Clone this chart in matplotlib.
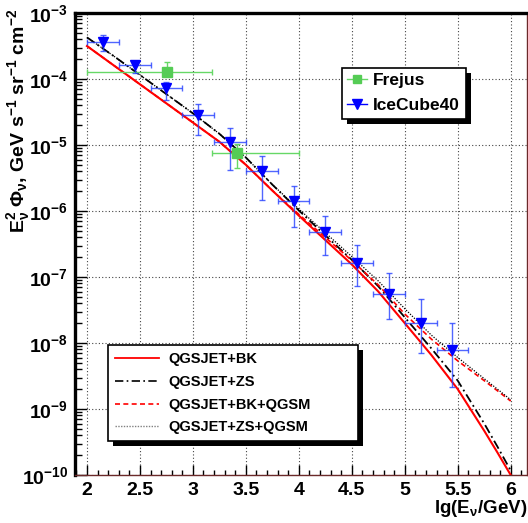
import numpy as np
import matplotlib
matplotlib.use('Agg')
import matplotlib.pyplot as plt
from matplotlib.lines import Line2D
from matplotlib.patches import Rectangle
from matplotlib.transforms import IdentityTransform
from matplotlib.ticker import MultipleLocator, LogLocator, FuncFormatter, NullFormatter

plt.rcParams['font.family'] = ['Liberation Sans', 'DejaVu Sans']
plt.rcParams['font.weight'] = 'bold'
plt.rcParams['axes.labelweight'] = 'bold'
plt.rcParams['mathtext.fontset'] = 'custom'
plt.rcParams['mathtext.rm'] = 'Liberation Sans:bold'
plt.rcParams['mathtext.it'] = 'Liberation Sans:bold'
plt.rcParams['mathtext.bf'] = 'Liberation Sans:bold'

# model curves, lg(E/GeV) vs E^2 Phi
lgE = [2.0, 2.25, 2.5, 2.75, 3.0, 3.25, 3.5, 3.75, 4.0,
       4.25, 4.5, 4.75, 5.0, 5.25, 5.5, 5.75, 5.875, 6.0]
bk = [3.16e-4, 1.62e-4, 8.32e-5, 4.27e-5, 2.19e-5, 1.12e-5, 5.01e-6, 2.04e-6, 8.51e-7,
      3.63e-7, 1.55e-7, 6.03e-8, 2.00e-8, 6.61e-9, 2.00e-9, 4.68e-10, 2.19e-10, 1.0e-10]
zs = [4.27e-4, 2.24e-4, 1.15e-4, 5.89e-5, 3.02e-5, 1.48e-5, 6.46e-6, 2.51e-6, 1.02e-6,
      4.27e-7, 1.82e-7, 7.24e-8, 2.45e-8, 8.32e-9, 2.69e-9, 6.03e-10, 2.69e-10, 1.17e-10]
bk_qgsm = [3.16e-4, 1.62e-4, 8.32e-5, 4.27e-5, 2.19e-5, 1.12e-5, 5.01e-6, 2.04e-6, 8.91e-7,
           3.98e-7, 1.78e-7, 7.59e-8, 2.75e-8, 1.15e-8, 5.37e-9, 2.69e-9, 1.89e-9, 1.32e-9]
zs_qgsm = [4.27e-4, 2.24e-4, 1.15e-4, 5.89e-5, 3.02e-5, 1.48e-5, 6.46e-6, 2.51e-6, 1.07e-6,
           4.68e-7, 2.04e-7, 8.71e-8, 3.31e-8, 1.32e-8, 6.03e-9, 2.88e-9, 2.0e-9, 1.38e-9]

# IceCube40 unfolded points
ic_x = np.array([2.15, 2.45, 2.75, 3.05, 3.35, 3.65, 3.95, 4.25, 4.55, 4.85, 5.15, 5.45])
ic_dx = 0.15
ic_y = np.array([3.67e-4, 1.63e-4, 7.23e-5, 2.85e-5, 1.12e-5, 4.08e-6,
                 1.42e-6, 4.81e-7, 1.63e-7, 5.47e-8, 2.03e-8, 7.94e-9])
ic_hi = np.array([4.68e-4, 1.875e-4, 9.12e-5, 4.18e-5, 1.79e-5, 6.81e-6,
                  2.42e-6, 8.45e-7, 3.05e-7, 1.14e-7, 4.65e-8, 2.02e-8])
ic_lo = np.array([2.63e-4, 1.245e-4, 4.81e-5, 1.42e-5, 4.18e-6, 1.47e-6,
                  5.78e-7, 2.18e-7, 7.41e-8, 2.29e-8, 6.97e-9, 2.18e-9])

# Frejus points
fr_x = np.array([2.76, 3.42])
fr_xlo = np.array([2.0, 3.18])
fr_xhi = np.array([3.18, 4.0])
fr_y = np.array([1.28e-4, 7.48e-6])
fr_hi = np.array([1.79e-4, 1.035e-5])
fr_lo = np.array([1.15e-4, 4.44e-6])

fig = plt.figure(figsize=(5.28, 5.23), dpi=100)
ax = fig.add_axes([75/528, 48/523, 452/528, 462/523])

ax.plot(lgE, bk, color='red', lw=1.5, zorder=3)
ax.plot(lgE, zs, color='black', lw=1.3, ls=(0, (5, 2, 1, 2)), zorder=3)
ax.plot(lgE, bk_qgsm, color='red', lw=1.2, ls=(0, (3, 2)), zorder=3)
ax.plot(lgE, zs_qgsm, color='black', lw=0.9, ls=(0, (1, 1.2)), zorder=3)

ax.errorbar(fr_x, fr_y, xerr=[fr_x - fr_xlo, fr_xhi - fr_x], yerr=[fr_y - fr_lo, fr_hi - fr_y],
            fmt='s', color='#55cc55', ecolor='#66d866', elinewidth=1.0, capsize=2.5,
            capthick=1.0, markersize=6.5, zorder=4)
ax.errorbar(ic_x, ic_y, xerr=ic_dx, yerr=[ic_y - ic_lo, ic_hi - ic_y],
            fmt='v', color='blue', ecolor=(0.15, 0.25, 1.0, 0.8), elinewidth=1.0, capsize=2.5,
            capthick=1.0, markersize=7.5, zorder=4)

ax.set_yscale('log')
ax.set_xlim(1.887, 6.154)
ax.set_ylim(1e-10, 1e-3)

ax.xaxis.set_major_locator(MultipleLocator(0.5))
ax.xaxis.set_minor_locator(MultipleLocator(0.1))
ax.xaxis.set_major_formatter(FuncFormatter(lambda v, p: '%g' % v))
ax.yaxis.set_major_locator(LogLocator(base=10, numticks=20))
ax.yaxis.set_minor_locator(LogLocator(base=10, subs=np.arange(2, 10), numticks=20))
ax.yaxis.set_minor_formatter(NullFormatter())
ax.yaxis.set_major_formatter(FuncFormatter(lambda v, p: r'$10^{%d}$' % round(np.log10(v))))

ax.tick_params(which='both', direction='in', labelsize=14, width=1.0)
ax.tick_params(axis='x', which='major', length=7, pad=5)
ax.tick_params(axis='x', which='minor', length=3.5)
ax.tick_params(axis='y', which='major', length=8.5, pad=5)
ax.tick_params(axis='y', which='minor', length=5)

ax.grid(True, which='major', color='#444444', ls=(0, (1, 2)), lw=0.8)

for s in ['top', 'left']:
    ax.spines[s].set_linewidth(2.4)
    ax.spines[s].set_color('black')
for s in ['right', 'bottom']:
    ax.spines[s].set_linewidth(1.0)
    ax.spines[s].set_color('#6b2a2a')

ax.set_ylabel(r'E$_{\nu}^{2}$ $\Phi_{\nu}$, GeV s$^{-1}$ sr$^{-1}$ cm$^{-2}$',
              fontsize=14, loc='top')
ax.yaxis.set_label_coords(-0.095, 1.01)
ax.set_xlabel(r'lg(E$_{\nu}$/GeV)', fontsize=13.5, loc='right')
ax.xaxis.label.set_verticalalignment('top')
ax.xaxis.set_label_coords(1.0, -0.05)

h1 = [Line2D([], [], color='#66d866', marker='s', markersize=6, markerfacecolor='#55cc55',
             markeredgecolor='#55cc55', lw=1.0),
      Line2D([], [], color='blue', marker='v', markersize=6.5, lw=1.0)]
leg1 = ax.legend(h1, ['Frejus', 'IceCube40'], loc='upper left',
                 bbox_to_anchor=(0.590, 0.765, 0.275, 0.117), mode='expand',
                 borderaxespad=0, fontsize=12.5, fancybox=False, framealpha=1,
                 edgecolor='black', handlelength=1.15, handletextpad=0.35,
                 labelspacing=0.6, borderpad=0.3)
leg1.get_frame().set_linewidth(1.2)
ax.add_artist(leg1)

h2 = [Line2D([], [], color='red', lw=1.3),
      Line2D([], [], color='black', lw=1.2, ls=(0, (5, 2, 1, 2))),
      Line2D([], [], color='red', lw=1.2, ls=(0, (3, 2))),
      Line2D([], [], color='gray', lw=1.0, ls=(0, (1, 1)))]
leg2 = ax.legend(h2, ['QGSJET+BK', 'QGSJET+ZS', 'QGSJET+BK+QGSM', 'QGSJET+ZS+QGSM'],
                 loc='upper left', bbox_to_anchor=(0.0737, 0.069, 0.553, 0.212),
                 mode='expand', borderaxespad=0, fontsize=10.5, fancybox=False,
                 framealpha=1, edgecolor='black', handlelength=3.0, handletextpad=0.64,
                 labelspacing=0.6, borderpad=0.48)
leg2.get_frame().set_linewidth(1.2)

# drop shadows like the ROOT legend boxes
fig.canvas.draw()
for leg in (leg1, leg2):
    bb = leg.get_window_extent()
    sh = Rectangle((bb.x0 + 5, bb.y0 - 5), bb.width, bb.height, transform=IdentityTransform(),
                   facecolor='black', edgecolor='none', zorder=leg.get_zorder() - 0.5,
                   clip_on=False)
    ax.add_artist(sh)

fig.savefig('out.png', dpi=100)
